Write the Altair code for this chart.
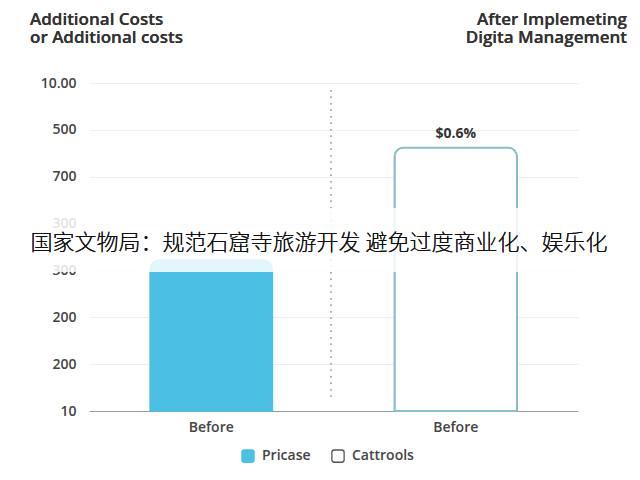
import json
import altair as alt
import pandas as pd

# ---- data ----
series = ["Pricase", "Cattrools"]
values = [3.22, 5.62]              # in y-tick index units
bar_labels = ["", "$0.6%"]
x_tick_labels = ["Before", "Before"]
y_tick_labels = ["10", "200", "200", "300", "300", "700", "500", "10.00"]
title_left = ["Additional Costs", "or Additional costs"]
title_right = ["After Implemeting", "Digita Management"]
overlay_text = "国家文物局：规范石窟寺旅游开发 避免过度商业化、娱乐化"

W, H = 489, 328
BLUE = "#4BC0E4"
OUT = "#8BBFCB"
FONT = "Open Sans"
ROUNDED = "M-0.6,-1 L0.6,-1 Q1,-1 1,-0.6 L1,0.6 Q1,1 0.6,1 L-0.6,1 Q-1,1 -1,0.6 L-1,-0.6 Q-1,-1 -0.6,-1 Z"

df = pd.DataFrame({"series": series, "value": values, "label": bar_labels})

y_expr = json.dumps(y_tick_labels) + "[datum.value]"
x_expr = json.dumps(dict(zip(series, x_tick_labels))) + "[datum.value]"

x = alt.X("series:N", sort=series, title=None,
          scale=alt.Scale(paddingInner=0.5, paddingOuter=0.25),
          axis=alt.Axis(labelExpr=x_expr, labelAngle=0, ticks=False,
                        domainColor="#9a9a9a", labelFontSize=14, labelColor="#444",
                        labelFont=FONT, labelFontWeight=600, labelPadding=9, grid=False))
y = alt.Y("value:Q", title=None,
          scale=alt.Scale(domain=[0, 7], nice=False, zero=True),
          axis=alt.Axis(values=list(range(8)), labelExpr=y_expr, ticks=False, domain=False,
                        gridColor="#eeeeee", labelFontSize=14, labelColor="#444",
                        labelFont=FONT, labelFontWeight=600, labelPadding=13))

legend = alt.Legend(
    title=None, orient="none", legendX=152, legendY=366,
    direction="horizontal", symbolType=ROUNDED,
    symbolSize=150, symbolStrokeWidth=1.3, labelFontSize=14,
    labelColor="#444", labelFont=FONT, labelFontWeight=600,
    columnPadding=18, labelOffset=7,
)

bars = alt.Chart(df).mark_bar(cornerRadiusTopLeft=9, cornerRadiusTopRight=9,
                              strokeWidth=1.5).encode(
    x=x, y=y,
    fill=alt.Fill("series:N", sort=series,
                  scale=alt.Scale(domain=series, range=[BLUE, "#ffffff"]),
                  legend=legend),
    stroke=alt.Stroke("series:N", sort=series,
                      scale=alt.Scale(domain=series, range=[BLUE, "#555555"]),
                      legend=legend),
)

outline = alt.Chart(df).transform_filter("datum.series == 'Cattrools'").mark_bar(
    cornerRadiusTopLeft=9, cornerRadiusTopRight=9, strokeWidth=1.8,
    fill="white", stroke=OUT).encode(x=alt.X("series:N", sort=series), y="value:Q")

labels = alt.Chart(df).mark_text(dy=-14, fontSize=14, fontWeight="bold",
                                 color="#333", font=FONT).encode(
    x=alt.X("series:N", sort=series), y="value:Q", text="label:N")

rule = alt.Chart(df).mark_rule(color="#aaaaaa", strokeDash=[1.5, 5], strokeWidth=1.5).encode(
    x=alt.value(242), y=alt.value(7), y2=alt.value(317))

band = alt.Chart(df).mark_rect(color="white", opacity=0.6).encode(
    x=alt.value(-81), x2=alt.value(543), y=alt.value(125), y2=alt.value(189))

overlay = alt.Chart(df).mark_text(text=overlay_text, fontSize=22, color="#111",
                                  fontWeight=300, font="Noto Sans CJK SC").encode(
    x=alt.value(230), y=alt.value(160))

tl = alt.Chart(df).mark_text(text=title_left, align="left", baseline="middle",
                             fontSize=17, fontWeight=600, color="#333",
                             font=FONT, lineHeight=18).encode(
    x=alt.value(-59), y=alt.value(-63))
tr = alt.Chart(df).mark_text(text=title_right, align="right", baseline="middle",
                             fontSize=17, fontWeight=600, color="#333",
                             font=FONT, lineHeight=18).encode(
    x=alt.value(538), y=alt.value(-63))

chart = alt.layer(bars, outline, labels, rule, band, overlay, tl, tr).properties(
    width=W, height=H,
    autosize=alt.AutoSizeParams(type="none"),
    padding={"left": 81, "top": 75, "right": 54, "bottom": 61},
).configure_view(stroke=None)

chart.save("out.html", embed_options={"renderer": "svg", "actions": False})
